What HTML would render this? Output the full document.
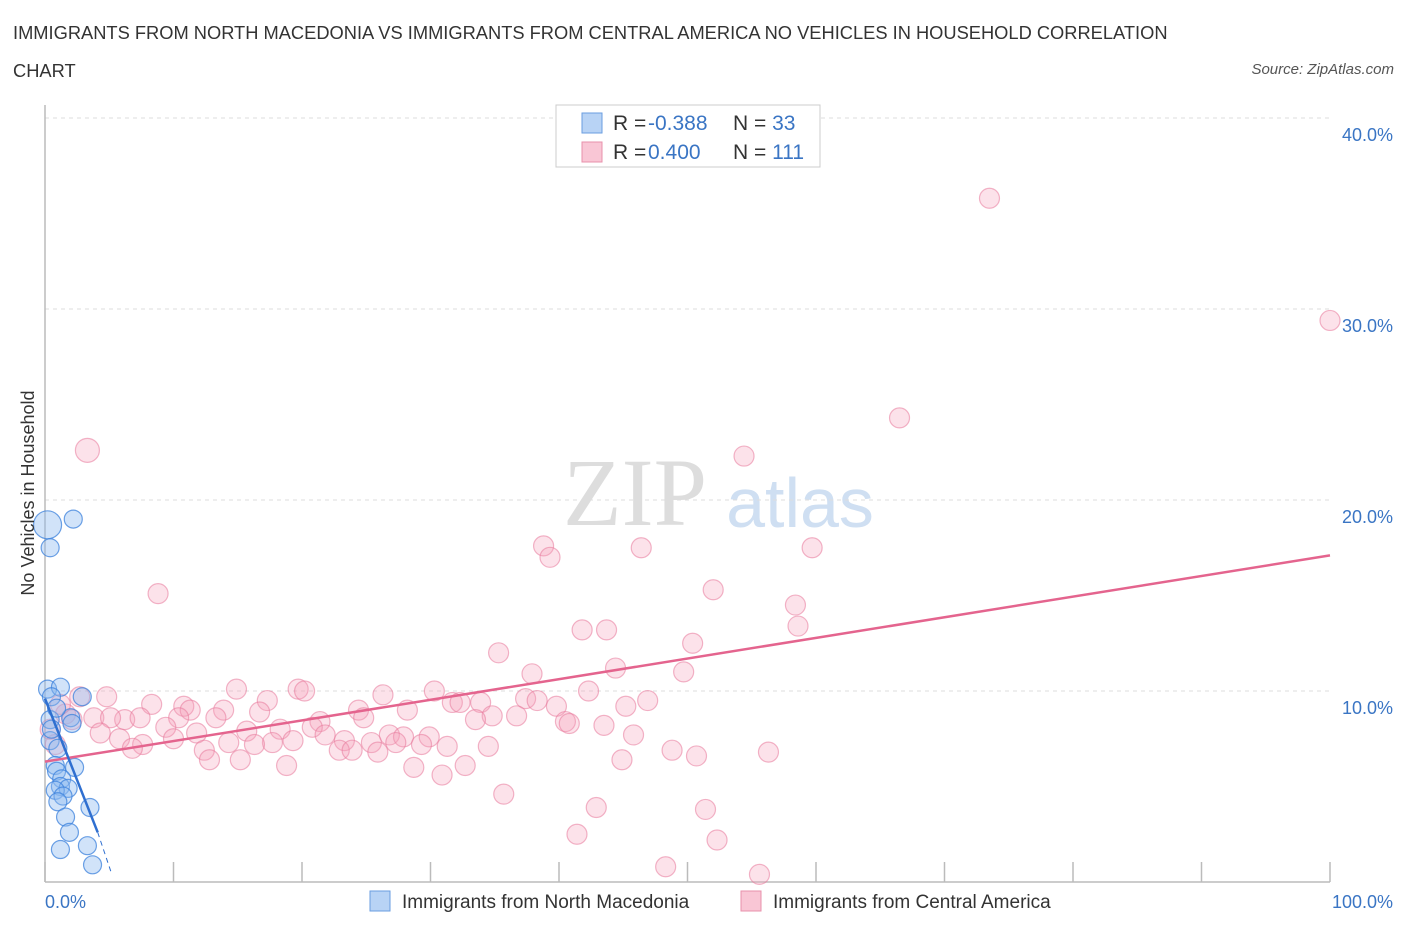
<!DOCTYPE html>
<html><head><meta charset="utf-8"><style>
body{margin:0;background:#fff;font-family:"Liberation Sans",sans-serif;}
#t{position:absolute;left:13px;top:14px;font-size:18.3px;color:#333;line-height:38px;width:1195px;}
#src{position:absolute;right:12px;top:61px;font-size:15px;color:#555;font-style:italic;}
</style></head><body>
<div id="t">IMMIGRANTS FROM NORTH MACEDONIA VS IMMIGRANTS FROM CENTRAL AMERICA NO VEHICLES IN HOUSEHOLD CORRELATION CHART</div>
<div id="src">Source: ZipAtlas.com</div>
<svg id="c" width="1406" height="930" style="position:absolute;left:0;top:0"></svg>
<script>
const yTicks=[10,20,30,40];
const pinkX=[73.5,100,66.5,54.4,3.3,38.8,39.3,46.4,59.7,8.8,52,58.4,58.6,41.8,43.7,50.4,35.3,44.4,37.9,49.7,14.9,19.7,20.2,26.3,30.3,42.3,4.8,2.7,37.4,46.9,38.3,33.9,31.7,32.3,8.3,17.3,10.8,11.3,13.9,24.4,39.8,45.2,16.7,34.8,33.5,36.7,6.2,3.8,10.4,13.3,21.4,24.8,40.5,40.8,43.5,1.6,2.1,5.1,7.4,9.4,11.8,15.7,18.3,20.8,21.8,28.2,26.8,27.9,29.9,45.8,4.3,5.8,10.0,14.3,17.7,19.3,23.3,25.4,27.3,29.3,31.3,22.9,23.9,7.6,6.8,12.4,16.3,25.9,34.5,48.8,50.7,56.3,12.8,15.2,18.8,28.7,32.7,44.9,30.9,35.7,42.9,51.4,41.4,52.3,48.3,55.6,0.8,0.4,1.2];
const pinkY=[35.8,29.4,24.3,22.3,22.6,17.6,17.0,17.5,17.5,15.1,15.3,14.5,13.4,13.2,13.2,12.5,12.0,11.2,10.9,11.0,10.1,10.1,10.0,9.8,10.0,10.0,9.7,9.7,9.6,9.5,9.5,9.4,9.4,9.4,9.3,9.5,9.2,9.0,9.0,9.0,9.2,9.2,8.9,8.7,8.5,8.7,8.5,8.6,8.6,8.6,8.4,8.6,8.4,8.3,8.2,8.8,8.5,8.6,8.6,8.1,7.8,7.9,8.0,8.1,7.7,9.0,7.7,7.6,7.6,7.7,7.8,7.5,7.5,7.3,7.3,7.4,7.4,7.3,7.3,7.2,7.1,6.9,6.9,7.2,7.0,6.9,7.2,6.8,7.1,6.9,6.6,6.8,6.4,6.4,6.1,6.0,6.1,6.4,5.6,4.6,3.9,3.8,2.5,2.2,0.8,0.4,7.2,8.0,9.3];
const blueX=[0.2,2.2,0.4,0.2,1.2,0.5,2.9,0.4,2.0,2.1,0.4,1.0,0.8,2.3,0.9,1.3,1.2,1.8,0.8,1.4,1.0,3.5,1.6,1.9,1.2,3.3,3.7,0.5,0.9];
const blueY=[18.7,19.0,17.5,10.1,10.2,9.7,9.7,8.5,8.6,8.3,7.4,7.0,6.1,6.0,5.8,5.4,5.0,4.9,4.8,4.5,4.2,3.9,3.4,2.6,1.7,1.9,0.9,8.0,9.1];
const pinkLine=[[0,6.3],[100,17.1]];
const blueLine=[[0,9.6],[4.1,2.6],[5.2,0.4]];
const X=v=>45+v*12.85, Y=v=>882-v*19.1;
const s=document.getElementById('c'),NS='http://www.w3.org/2000/svg';
function el(t,a,p){const e=document.createElementNS(NS,t);for(const k in a)e.setAttribute(k,a[k]);(p||s).appendChild(e);return e;}
let w=el('text',{x:635,y:525,'font-size':96,'font-family':'Liberation Serif',fill:'#ddd','text-anchor':'middle'});w.textContent='ZIP';


let w2=el('text',{x:800,y:527,'font-size':70,'font-family':'Liberation Sans',fill:'#cfdff2','text-anchor':'middle'});w2.textContent='atlas';


yTicks.forEach(v=>{let g=el('line',{x1:45,x2:1330,y1:Y(v),y2:Y(v),stroke:'#ddd','stroke-dasharray':'4,4'});


let t=el('text',{x:1393,y:Y(v)+23,'font-size':18,fill:'#3a75c4','text-anchor':'end'});t.textContent=v.toFixed(1)+'%';

});
let ax=el('line',{x1:45,x2:45,y1:105,y2:882,stroke:'#bbb','stroke-width':1.5});


let bx=el('line',{x1:45,x2:1330,y1:882,y2:882,stroke:'#bbb','stroke-width':1.5});


for(let i=0;i<=10;i++){let tk=el('line',{x1:X(i*10),x2:X(i*10),y1:862,y2:882,stroke:'#bbb','stroke-width':1.5});

}
pinkX.forEach((x,i)=>{let c=el('circle',{cx:X(x),cy:Y(pinkY[i]),r:(i==4?12:10),fill:'rgba(244,160,186,0.3)',stroke:'rgba(232,120,155,0.55)','stroke-width':1.2});

});
blueX.forEach((x,i)=>{let c=el('circle',{cx:X(x),cy:Y(blueY[i]),r:(i==0?14:9),fill:'rgba(140,185,240,0.4)',stroke:'rgba(60,130,220,0.75)','stroke-width':1.2});

});
let pl=el('line',{x1:X(pinkLine[0][0]),y1:Y(pinkLine[0][1]),x2:X(pinkLine[1][0]),y2:Y(pinkLine[1][1]),stroke:'#e4648e','stroke-width':2.5});


let bl=el('line',{x1:X(blueLine[0][0]),y1:Y(blueLine[0][1]),x2:X(blueLine[1][0]),y2:Y(blueLine[1][1]),stroke:'#2f6fd0','stroke-width':2.5});


let bd=el('line',{x1:X(blueLine[1][0]),y1:Y(blueLine[1][1]),x2:X(blueLine[2][0]),y2:Y(blueLine[2][1]),stroke:'#2f6fd0','stroke-width':1,'stroke-dasharray':'5,4'});


let yl=el('text',{x:34,y:493,'font-size':18,fill:'#333','text-anchor':'middle',transform:'rotate(-90 34 493)'});yl.textContent='No Vehicles in Household';


let x0=el('text',{x:45,y:908,'font-size':18,fill:'#3a75c4'});x0.textContent='0.0%';


let x1=el('text',{x:1393,y:908,'font-size':18,fill:'#3a75c4','text-anchor':'end'});x1.textContent='100.0%';


let bxr=el('rect',{x:556,y:105,width:264,height:62,fill:'#fff',stroke:'#ccc'});


[[ '#b8d3f5','#6a9ee0','-0.388','33',123],['#f9c6d5','#e890ab',' 0.400','111',152]].forEach(r=>{
 let sw=el('rect',{x:582,y:r[4]-10,width:20,height:20,fill:r[0],stroke:r[1]});
 
 
 let t=el('text',{x:613,y:r[4]+7,'font-size':21,fill:'#333'});
 t.innerHTML='R = <tspan x="648" fill="#3a75c4">'+r[2]+'</tspan><tspan x="733">N = </tspan><tspan fill="#3a75c4">'+r[3]+'</tspan>';
 t.setAttribute('xml:space','preserve');
 
 });
[[370,'#b8d3f5','#6a9ee0','Immigrants from North Macedonia'],[741,'#f9c6d5','#e890ab','Immigrants from Central America']].forEach(l=>{
 let r=el('rect',{x:l[0],y:891,width:20,height:20,fill:l[1],stroke:l[2]});
 
 
 let t=el('text',{x:l[0]+32,y:908,'font-size':19,fill:'#333'});t.textContent=l[3];
 
 });
</script>
</body></html>
